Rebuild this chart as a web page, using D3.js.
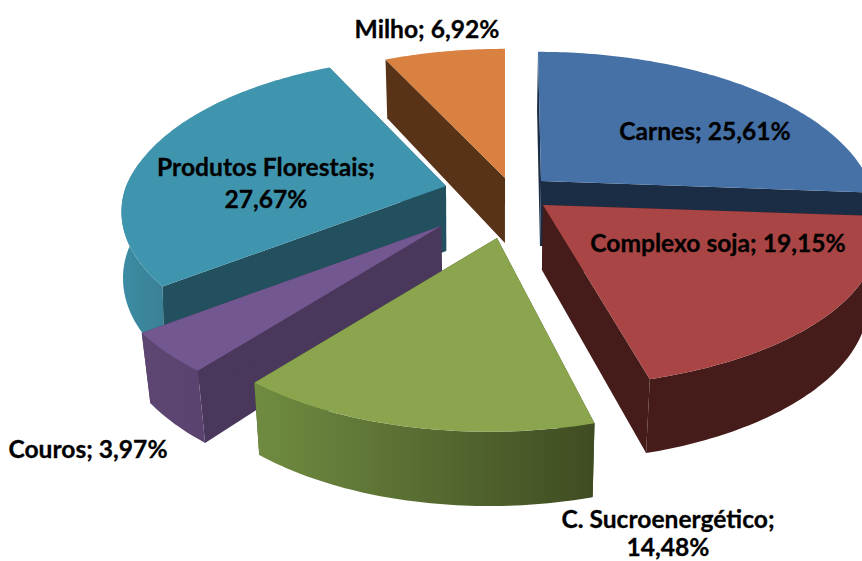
<!DOCTYPE html>
<html><head><meta charset="utf-8">
<script src="https://cdn.jsdelivr.net/npm/d3@7/dist/d3.min.js"></script>
<style>html,body{margin:0;padding:0;background:#fff;overflow:hidden}svg{display:block}</style>
</head><body><svg id="c" width="862" height="561"></svg>
<script>
const categories = ["Carnes","Complexo soja","C. Sucroenergético","Couros","Produtos Florestais","Milho"];
const values = [25.61,19.15,14.48,3.97,27.67,6.92];
const valueLabels = ["25,61%","19,15%","14,48%","3,97%","27,67%","6,92%"];
const topColors = ["#4571A7","#A94544","#8AA54E","#735790","#4095AE","#D88140"];
const cutColors = ["#1B2D44","#451C1A","#3F4C22","#4A385C","#23505F","#583317"];
const wallLeft  = ["#1B2D44","#451C1A","#708C41","#5E4672","#3B8CA3","#8A5020"];
const wallRight = ["#1B2D44","#451C1A","#3F4C22","#5A436E","#3A8097","#8A5020"];
// layout
const apexX = [541,543,497,441,446,505];
const apexY = [181,205,238,226,186,178];
const frontSkew = [0,0,-8,-4,10,0];
const backSkew = [3,0,0,0,0,0];
const frontScaleY = [1,0.94,1,1,0.94,1];
const sideScale = [1,1,0.985,1,0.975,1];
const wallShrink = [0.975,0.975,0.98,0.976,0.996,0.985];
const drawOrder = [5,0,4,1,3,2];
const labelLines = [["Carnes; 25,61%"],["Complexo soja; 19,15%"],["C. Sucroenergético;","14,48%"],["Couros; 3,97%"],["Produtos Florestais;","27,67%"],["Milho; 6,92%"]];
const labelX = [705,718,668,88,266,427];
const labelY = [130,242,518,448,166,28];
const labelGap = [0,0,28.5,0,32,0];
const RX=328, RY=155, K=0.2, DEPTH=65, VX=500;
const WALL_FROM=Math.PI/2, WALL_TO=4.87;

const svg=d3.select("#c");
const defs=svg.append("defs");
const arcs=d3.pie().sort(null).startAngle(0).endAngle(2*Math.PI)(values);
const persp=a=>1/(1+K*Math.cos(a));
const topPt=(i,a,r=1)=>{
  const p=r?persp(a):1, Y=-Math.cos(a);
  const skew=Y>0?frontSkew[i]*Y:backSkew[i]*Y, sy=Y>0?frontScaleY[i]:1;
  return [apexX[i]+r*(RX*sideScale[i]*Math.sin(a)*p+skew), apexY[i]+r*RY*Y*p*sy];
};
const lowPt=(i,a,r=1)=>{
  const q=topPt(i,a,r),p=r?persp(a):1;
  return [VX+(q[0]-VX)*wallShrink[i], q[1]+DEPTH*Math.pow(p,0.6)];
};
const pathLine=d3.line();
const g=svg.append("g");
drawOrder.forEach(i=>{
  const d=arcs[i], n=Math.ceil((d.endAngle-d.startAngle)*60);
  const as=d3.range(n+1).map(j=>d.startAngle+(d.endAngle-d.startAngle)*j/n);
  const topArc=as.map(a=>topPt(i,a));
  const wa0=Math.max(d.startAngle,WALL_FROM), wa1=Math.min(d.endAngle,WALL_TO);
  const s=g.append("g").attr("class","slice");
  [d.startAngle,d.endAngle].forEach(a=>{
    s.append("path").attr("fill",cutColors[i]).attr("d",pathLine([topPt(i,a,0),topPt(i,a),lowPt(i,a),lowPt(i,a,0)])+"Z");
  });
  if(wa1>wa0){
    const m=Math.ceil((wa1-wa0)*60);
    const was=d3.range(m+1).map(j=>wa0+(wa1-wa0)*j/m);
    const wt=was.map(a=>topPt(i,a)), wl=was.map(a=>lowPt(i,a));
    const xs=wt.concat(wl).map(p=>p[0]);
    const gr=defs.append("linearGradient").attr("id","w"+i).attr("gradientUnits","userSpaceOnUse")
      .attr("x1",d3.min(xs)).attr("x2",d3.max(xs)).attr("y1",0).attr("y2",0);
    gr.append("stop").attr("offset",0).attr("stop-color",wallLeft[i]);
    gr.append("stop").attr("offset",1).attr("stop-color",wallRight[i]);
    s.append("path").attr("fill",`url(#w${i})`).attr("d",pathLine(wt.concat(wl.slice().reverse()))+"Z");
  }
  s.append("path").attr("fill",topColors[i]).attr("d",pathLine([topPt(i,0,0),...topArc])+"Z");
});
const lg=svg.append("g").attr("font-family","Lato, 'Noto Sans', sans-serif").attr("font-weight",700).attr("font-size",24.6).attr("fill","#000").attr("stroke","#000").attr("stroke-width",0.3).attr("text-anchor","middle");
labelLines.forEach((ls,i)=>ls.forEach((t,j)=>{
  lg.append("text").attr("x",labelX[i]).attr("y",labelY[i]+j*labelGap[i]).attr("dominant-baseline","central").text(t);
}));
</script></body></html>
